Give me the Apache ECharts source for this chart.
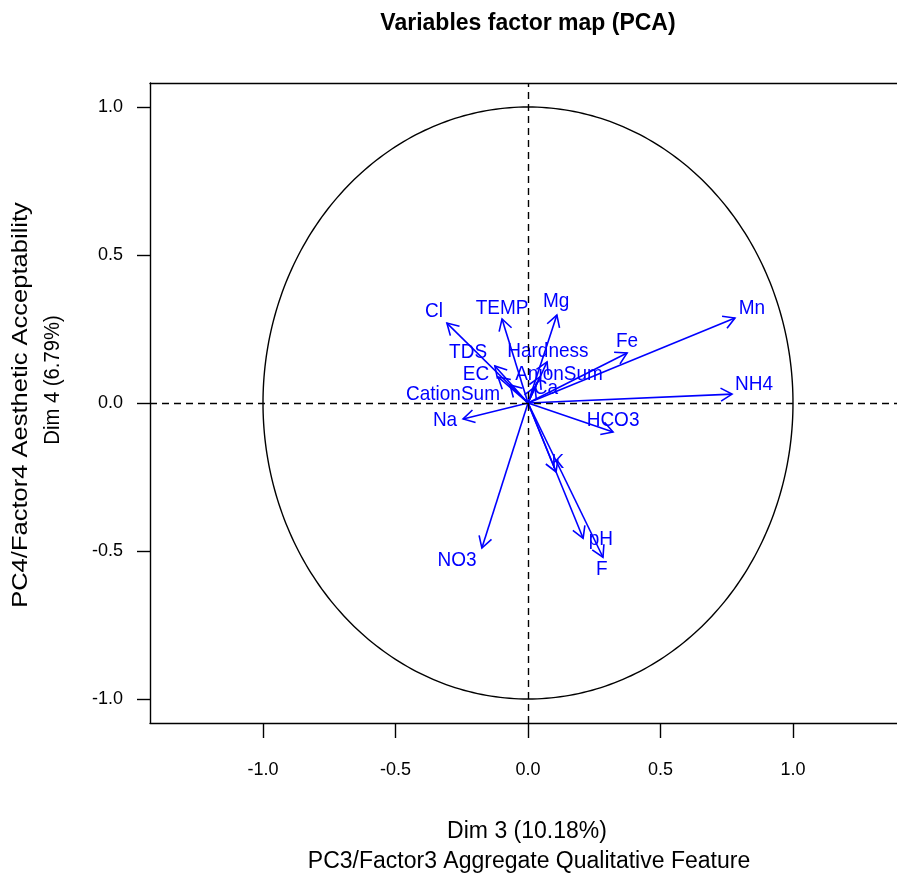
<!DOCTYPE html>
<html>
<head>
<meta charset="utf-8">
<script src="https://cdn.jsdelivr.net/npm/echarts@6/dist/echarts.min.js"></script>
<style>
html,body{margin:0;padding:0;background:#fff;}
#chart{width:897px;height:879px;}
</style>
</head>
<body>
<div id="chart"></div>
<script>
// Variables and their loadings on Dim 3 / Dim 4
const variables = ['Mn','NH4','Fe','Cl','TEMP','Mg','TDS','EC','CationSum','Hardness','AnionSum','Ca','Na','HCO3','NO3','pH','F','K'];
const dim3 = [0.781, 0.770, 0.374, -0.306, -0.098, 0.109, -0.125, -0.113, -0.068, 0.072, 0.045, 0.026, -0.245, 0.321, -0.174, 0.208, 0.283, 0.106];
const dim4 = [0.287, 0.030, 0.169, 0.270, 0.284, 0.297, 0.125, 0.088, 0.061, 0.139, 0.088, 0.054, -0.054, -0.098, -0.490, -0.457, -0.521, -0.233];
// label anchor positions (data units) as placed in the picture
const labelX = [0.845, 0.853, 0.374, -0.355, -0.098, 0.106, -0.226, -0.196, -0.283, 0.075, 0.117, 0.068, -0.313, 0.321, -0.268, 0.275, 0.279, 0.113];
const labelY = [0.321, 0.064, 0.209, 0.311, 0.321, 0.345, 0.172, 0.098, 0.030, 0.176, 0.098, 0.051, -0.057, -0.057, -0.530, -0.459, -0.561, -0.199];
const tickValues = [-1.0, -0.5, 0.0, 0.5, 1.0];

const FONT = "'Liberation Sans', Arial, Helvetica, sans-serif";
const BLUE = '#0000FF';

const arrowData = variables.map((n, i) => [dim3[i], dim4[i], n]);
const labelData = variables.map((n, i) => [labelX[i], labelY[i], n]);

const chart = echarts.init(document.getElementById('chart'), null, {renderer: 'canvas'});

function renderArrow(params, api) {
  const x = api.value(0), y = api.value(1);
  const p0 = api.coord([0, 0]);
  const p1 = api.coord([x, y]);
  const ang = Math.atan2(p1[1] - p0[1], p1[0] - p0[0]);
  const L = 13, a = Math.PI / 6;
  const h1 = [p1[0] - L * Math.cos(ang - a), p1[1] - L * Math.sin(ang - a)];
  const h2 = [p1[0] - L * Math.cos(ang + a), p1[1] - L * Math.sin(ang + a)];
  const st = {stroke: BLUE, lineWidth: 1.6, fill: null};
  return {
    type: 'group',
    children: [
      {type: 'line', shape: {x1: p0[0], y1: p0[1], x2: p1[0], y2: p1[1]}, style: st},
      {type: 'polyline', shape: {points: [h1, p1, h2]}, style: st}
    ]
  };
}

function renderLabel(params, api) {
  const p = api.coord([api.value(0), api.value(1)]);
  return {
    type: 'text',
    x: p[0], y: p[1], scaleY: 1.1,
    style: {text: api.value(2), fill: BLUE, font: '19px ' + FONT, textAlign: 'center', textVerticalAlign: 'middle'}
  };
}

function renderCircle(params, api) {
  const pts = [];
  for (let k = 0; k <= 360; k++) {
    const t = k * Math.PI / 180;
    pts.push(api.coord([Math.cos(t), Math.sin(t)]));
  }
  return {type: 'polyline', shape: {points: pts}, style: {stroke: '#000', lineWidth: 1.4, fill: null}};
}

const option = {
  backgroundColor: '#fff',
  animation: false,
  title: {
    text: 'Variables factor map (PCA)',
    left: 523, top: 7, textAlign: 'center',
    textStyle: {fontFamily: FONT, fontSize: 23, fontWeight: 'bold', color: '#000'}
  },
  grid: {left: 150, right: 0, top: 83, bottom: 156, containLabel: false},
  xAxis: [{
    type: 'value', min: -1.4264, max: 1.3925, position: 'bottom',
    axisLine: {show: true, onZero: false, lineStyle: {color: '#000', width: 1.4}},
    axisTick: {show: true, length: 15, customValues: tickValues, lineStyle: {color: '#000', width: 1.4}},
    axisLabel: {show: true, margin: 38, customValues: tickValues, formatter: v => v.toFixed(1), color: '#000', fontSize: 18, fontFamily: FONT},
    splitLine: {show: false}
  }, {
    type: 'value', min: -1.4264, max: 1.3925, position: 'top',
    axisLine: {show: true, onZero: false, lineStyle: {color: '#000', width: 1.4}},
    axisTick: {show: false}, axisLabel: {show: false}, splitLine: {show: false}
  }],
  yAxis: {
    type: 'value', min: -1.081, max: 1.081,
    axisLine: {show: true, onZero: false, lineStyle: {color: '#000', width: 1.4}},
    axisTick: {show: true, length: 13, customValues: tickValues, lineStyle: {color: '#000', width: 1.4}},
    axisLabel: {show: true, margin: 27, customValues: tickValues, formatter: v => v.toFixed(1), color: '#000', fontSize: 18, fontFamily: FONT},
    splitLine: {show: false}
  },
  graphic: [
    {type: 'text', x: 527, y: 832, style: {text: 'Dim 3 (10.18%)', font: '23px ' + FONT, fill: '#000', textAlign: 'center', textVerticalAlign: 'middle'}},
    {type: 'text', x: 529, y: 862, style: {text: 'PC3/Factor3 Aggregate Qualitative Feature', font: '23px ' + FONT, fill: '#000', textAlign: 'center', textVerticalAlign: 'middle'}},
    {type: 'text', x: 53, y: 380, rotation: Math.PI / 2, scaleX: 0.92, style: {text: 'Dim 4 (6.79%)', font: '22px ' + FONT, fill: '#000', textAlign: 'center', textVerticalAlign: 'middle'}},
    {type: 'text', x: 21, y: 405, rotation: Math.PI / 2, scaleX: 1.16, style: {text: 'PC4/Factor4 Aesthetic Acceptability', font: '22px ' + FONT, fill: '#000', textAlign: 'center', textVerticalAlign: 'middle'}}
  ],
  series: [
    {
      type: 'custom', name: 'circle', renderItem: renderCircle, data: [[0, 0]], silent: true, z: 1,
      markLine: {
        silent: true, symbol: 'none', label: {show: false},
        lineStyle: {color: '#000', type: [7, 5], width: 1.4},
        data: [{xAxis: 0}, {yAxis: 0}]
      }
    },
    {type: 'custom', name: 'arrows', renderItem: renderArrow, data: arrowData, silent: true, z: 3},
    {type: 'custom', name: 'labels', renderItem: renderLabel, data: labelData, silent: true, z: 4}
  ]
};
chart.setOption(option);
</script>
</body>
</html>
